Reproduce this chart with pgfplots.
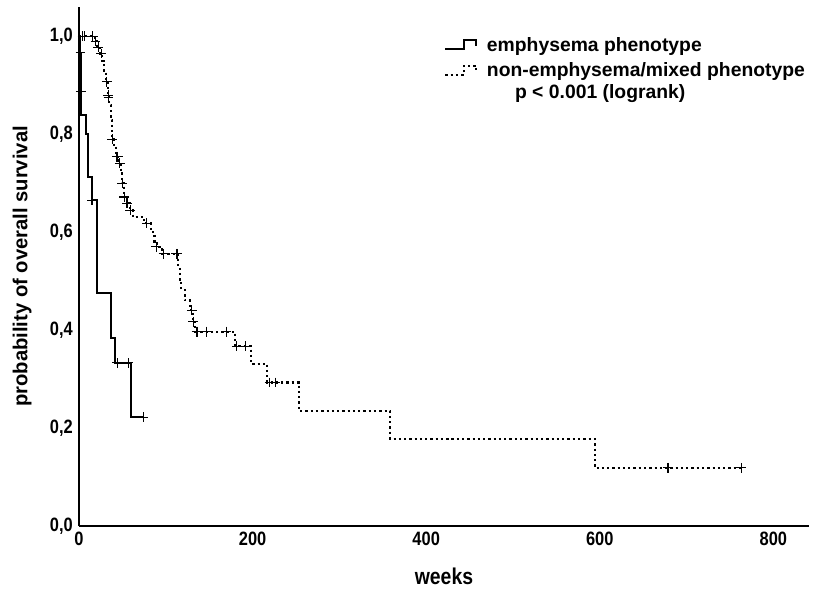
\documentclass[border=0pt]{standalone}
\usepackage{fontspec}
\setmainfont{Liberation Sans}
\newfontfamily\narrowfont[FakeStretch=0.85]{Liberation Sans}
\usepackage{pgfplots}
\pgfplotsset{compat=1.18}

\begin{document}
\begin{tikzpicture}
\begin{axis}[
  scale only axis, width=14.6cm, height=10.38cm,
  xmin=0, xmax=841, ymin=0, ymax=1.06,
  axis x line*=bottom, axis y line*=left,
  axis line style={line width=1.3pt},
  xtick={0,200,400,600,800}, ytick={0,0.2,0.4,0.6,0.8,1.0},
  major tick length=0pt,
  /pgf/number format/assume math mode=true,
  y tick label style={/pgf/number format/.cd, fixed, fixed zerofill, precision=1, use comma},
  tick label style={font=\narrowfont\bfseries\fontsize{11}{13}\selectfont},
  xlabel={weeks}, ylabel={probability of overall survival},
  xlabel style={font=\narrowfont\bfseries\fontsize{13}{15}\selectfont, at={(axis description cs:0.5,-0.097)}, anchor=center},
  ylabel style={font=\bfseries\fontsize{11.5}{14}\selectfont, at={(axis description cs:-0.078,0.5)}, anchor=center, rotate=0},
  legend style={draw=none, fill=none, at={(axis description cs:0.5,0.949)}, anchor=north west,
    font=\bfseries\fontsize{11}{13}\selectfont, inner sep=0pt, row sep=1pt},
  legend cell align=left,
  legend image code/.code={\draw[#1] (0cm,-0.07cm) -- (0.38cm,-0.07cm) -- (0.38cm,0.11cm) -- (0.62cm,0.11cm) -- (0.62cm,0.0cm);
    \path (0.74cm,0cm);},
]
\coordinate (bl) at (rel axis cs:0,0);

% emphysema phenotype
\addplot[const plot, black, line width=1.1pt, mark=none] coordinates {
(0,1.0) (1.5,0.967) (1.8,0.928) (2.0,0.888) (2.3,0.84) (8,0.80) (10,0.712)
(14.5,0.665) (21,0.476) (36.5,0.384) (41.5,0.333) (60,0.222) (74,0.222)};
\addlegendentry{emphysema phenotype}

% non-emphysema / mixed phenotype
\addplot[const plot, black, line width=1.2pt, dash pattern=on 1.3pt off 1.7pt, mark=none] coordinates {
(0,1.0) (18,0.99) (21,0.978) (24,0.965) (27,0.95) (29,0.93) (31,0.907) (33,0.88)
(35,0.86) (36.5,0.83) (38,0.79) (40,0.775) (43,0.754) (46.5,0.741) (48,0.72)
(49.5,0.70) (51.5,0.672) (55,0.659) (58.5,0.645) (62,0.631) (75,0.618) (83,0.60)
(87,0.577) (90,0.570) (96,0.556) (114.5,0.53) (116,0.50) (118,0.482) (122,0.461)
(128,0.441) (131,0.417) (134,0.397) (180,0.367) (198,0.331) (217,0.293)
(253.6,0.235) (358.5,0.178) (594,0.119) (763,0.119)};
\addlegendentry{non-emphysema/mixed phenotype}

% censored cases
\addplot[only marks, black, mark=+, mark size=2.8pt, mark options={line width=0.6pt}, forget plot] coordinates {
(1.7,0.967) (2.1,0.888) (15,0.665) (44,0.333) (56.5,0.333) (74,0.222)};
\addplot[only marks, black, mark=+, mark size=2.8pt, mark options={line width=0.6pt}, forget plot] coordinates {
(4,1.0) (6,1.0) (16,1.0) (19,0.99) (22,0.978) (25.5,0.965) (32,0.907) (33.5,0.88)
(34,0.876) (38.5,0.79) (43.5,0.754) (44.5,0.754) (47,0.741) (49.6,0.70) (52,0.672)
(55.3,0.659) (58.8,0.645) (78,0.618) (89,0.570) (97.5,0.556) (112,0.556) (113,0.556)
(130,0.441) (131.5,0.417) (135.5,0.397) (137,0.397) (147,0.397) (170,0.397)
(181.8,0.367) (191.4,0.367) (219.4,0.293) (226,0.293) (678.6,0.119) (763,0.119)};

\node[font=\bfseries\fontsize{11}{13}\selectfont, anchor=center] at (axis description cs:0.714,0.834) {p < 0.001 (logrank)};
\end{axis}
\pgfresetboundingbox
\path (bl) ++(-1.58cm,-1.28cm) rectangle ++(16.38cm,11.8cm);
\end{tikzpicture}
\end{document}
